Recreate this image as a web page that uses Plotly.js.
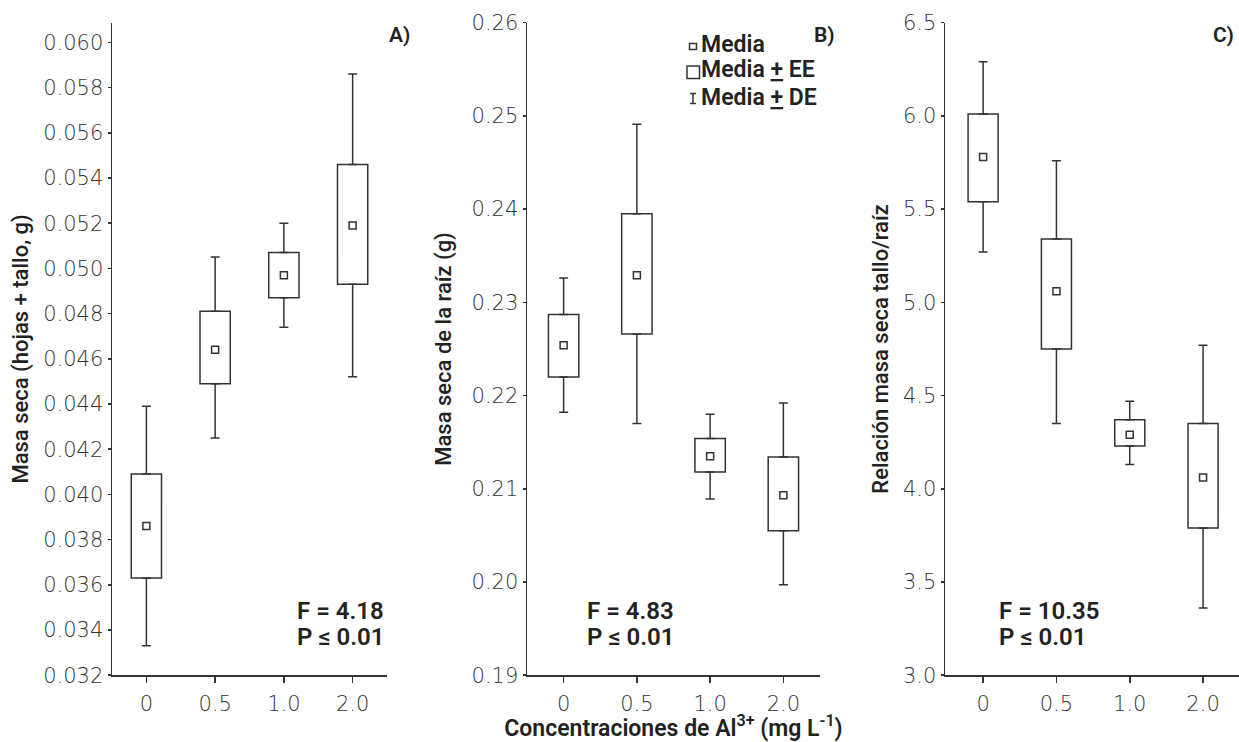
<!DOCTYPE html>
<html><head><meta charset="utf-8">
<script src="https://cdn.plot.ly/plotly-3.0.1.min.js"></script>
<style>html,body{margin:0;padding:0;background:#fff}#chart{width:1239px;height:742px}</style>
</head><body><div id="chart"></div>
<script>
// Categories (Al3+ concentration, mg/L)
const categories = ['0', '0.5', '1.0', '2.0'];

// Panel A: Masa seca (hojas + tallo, g)
const aMean   = [0.0386, 0.0464, 0.0497, 0.0519];
const aEELow  = [0.0363, 0.0449, 0.0487, 0.0493];
const aEEHigh = [0.0409, 0.0481, 0.0507, 0.0546];
const aDELow  = [0.0333, 0.0425, 0.0474, 0.0452];
const aDEHigh = [0.0439, 0.0505, 0.0520, 0.0586];

// Panel B: Masa seca de la raíz (g)
const bMean   = [0.2254, 0.2329, 0.2135, 0.2093];
const bEELow  = [0.2220, 0.2266, 0.2118, 0.2055];
const bEEHigh = [0.2287, 0.2395, 0.2154, 0.2134];
const bDELow  = [0.2182, 0.2170, 0.2089, 0.1997];
const bDEHigh = [0.2326, 0.2491, 0.2180, 0.2192];

// Panel C: Relación masa seca tallo/raíz
const cMean   = [5.78, 5.06, 4.29, 4.06];
const cEELow  = [5.54, 4.75, 4.23, 3.79];
const cEEHigh = [6.01, 5.34, 4.37, 4.35];
const cDELow  = [5.27, 4.35, 4.13, 3.36];
const cDEHigh = [6.29, 5.76, 4.47, 4.77];

// Statistics text
const fTexts = ['F = 4.18', 'F = 4.83', 'F = 10.35'];
const pTexts = ['P ≤ 0.01', 'P ≤ 0.01', 'P ≤ 0.01'];
const panelLabels = ['A)', 'B)', 'C)'];
const yTitles = ['Masa seca (hojas + tallo, g)', 'Masa seca de la raíz (g)', 'Relación masa seca tallo/raíz'];
const xTitle = 'Concentraciones de Al<sup>3+</sup> (mg L<sup>-1</sup>)';
const legendTexts = ['Media', 'Media <u>+</u> EE', 'Media <u>+</u> DE'];

const LINE = '#333333';
const W = 1239, H = 742;

function panelTraces(xa, ya, mean, eeLo, eeHi, deLo, deHi, boxW) {
  const zeros = categories.map(() => 0);
  const common = {xaxis: xa, yaxis: ya, showlegend: false, hoverinfo: 'skip'};
  return [
    Object.assign({
      type: 'bar', x: categories, base: eeLo,
      y: eeHi.map((v, i) => v - eeLo[i]), width: boxW,
      marker: {color: '#ffffff', line: {color: LINE, width: 1.5}}
    }, common),
    Object.assign({
      type: 'scatter', mode: 'markers', x: categories, y: eeHi,
      marker: {color: 'rgba(0,0,0,0)', size: 1},
      error_y: {type: 'data', symmetric: false,
        array: deHi.map((v, i) => v - eeHi[i]), arrayminus: zeros,
        color: LINE, thickness: 1.5, width: 4.5}
    }, common),
    Object.assign({
      type: 'scatter', mode: 'markers', x: categories, y: eeLo,
      marker: {color: 'rgba(0,0,0,0)', size: 1},
      error_y: {type: 'data', symmetric: false,
        array: zeros, arrayminus: eeLo.map((v, i) => v - deLo[i]),
        color: LINE, thickness: 1.5, width: 4.5}
    }, common),
    Object.assign({
      type: 'scatter', mode: 'markers', x: categories, y: mean,
      marker: {symbol: 'square-open', size: 7, color: LINE, line: {width: 1.5, color: LINE}}
    }, common)
  ];
}

const data = [].concat(
  panelTraces('x', 'y', aMean, aEELow, aEEHigh, aDELow, aDEHigh, 0.44),
  panelTraces('x2', 'y2', bMean, bEELow, bEEHigh, bDELow, bDEHigh, 0.415),
  panelTraces('x3', 'y3', cMean, cEELow, cEEHigh, cDELow, cDEHigh, 0.41)
);

const tickFont = {family: 'DejaVu Sans', size: 21, color: '#333333', weight: 200};
const titleFont = {family: 'Roboto', size: 22, color: '#222222', weight: 500};

function xAxis(domain, anchor, range) {
  return {domain: domain, anchor: anchor, type: 'category',
    categoryorder: 'array', categoryarray: categories, range: range,
    showline: true, linecolor: LINE, linewidth: 1.5,
    ticks: 'outside', ticklen: 6, tickwidth: 1.5, tickcolor: LINE,
    tickfont: tickFont, showgrid: false, zeroline: false, fixedrange: true,
    ticklabelstandoff: 3};
}
function yAxis(domain, anchor, range, tick0, dtick, fmt, title, standoff) {
  return {domain: domain, anchor: anchor, range: range, tick0: tick0, dtick: dtick,
    tickformat: fmt, showline: true, linecolor: LINE, linewidth: 1.5,
    ticks: 'outside', ticklen: 3, tickwidth: 1.5, tickcolor: LINE,
    tickfont: tickFont, showgrid: false, zeroline: false, fixedrange: true,
    title: {text: title, font: titleFont, standoff: standoff}};
}

const yDom = [(H - 675.2) / H, (H - 22.7) / H];
const layout = {
  width: W, height: H,
  margin: {l: 0, r: 0, t: 0, b: 0},
  paper_bgcolor: '#ffffff', plot_bgcolor: '#ffffff',
  showlegend: false,
  xaxis: xAxis([112 / W, 387 / W], 'y', [-0.5, 3.5]),
  yaxis: yAxis(yDom, 'x', [0.032, 0.06087], 0.032, 0.002, '.3f', yTitles[0], 8),
  xaxis2: Object.assign(xAxis([527 / W, 820 / W], 'y2', [-0.5, 3.5]),
    {title: {text: xTitle, font: {family: 'Roboto', size: 23, color: '#222222', weight: 600}, standoff: 3}}),
  yaxis2: yAxis(yDom, 'x2', [0.19, 0.26], 0.19, 0.01, '.2f', yTitles[1], 14),
  xaxis3: xAxis([945 / W, 1239 / W], 'y3', [-0.52, 3.49]),
  yaxis3: yAxis(yDom, 'x3', [3.0, 6.5], 3.0, 0.5, '.1f', yTitles[2], 8),
  annotations: [],
  shapes: []
};

const statFont = {family: 'Roboto', size: 24, color: '#222222', weight: 600};
const statX = [295, 585, 997];
for (let i = 0; i < 3; i++) {
  layout.annotations.push({xref: 'paper', yref: 'paper', x: statX[i] / W, y: 1 - 611 / H,
    xanchor: 'left', yanchor: 'middle', text: fTexts[i], showarrow: false, font: statFont});
  layout.annotations.push({xref: 'paper', yref: 'paper', x: statX[i] / W, y: 1 - 637 / H,
    xanchor: 'left', yanchor: 'middle', text: pTexts[i], showarrow: false, font: statFont});
}
const labelX = [412, 837, 1236];
for (let i = 0; i < 3; i++) {
  layout.annotations.push({xref: 'paper', yref: 'paper', x: labelX[i] / W, y: 1 - 35 / H,
    xanchor: 'right', yanchor: 'middle', text: panelLabels[i], showarrow: false,
    font: {family: 'Roboto', size: 21, color: '#222222', weight: 600}});
}
const legY = [44, 70, 97];
for (let i = 0; i < 3; i++) {
  layout.annotations.push({xref: 'paper', yref: 'paper', x: 699 / W, y: 1 - legY[i] / H,
    xanchor: 'left', yanchor: 'middle', text: legendTexts[i], showarrow: false,
    font: {family: 'Roboto', size: 23, color: '#222222', weight: 600}});
}
function px(x) { return x / W; }
function py(y) { return 1 - y / H; }
const shapeLine = {color: LINE, width: 1.5};
layout.shapes.push({type: 'rect', xref: 'paper', yref: 'paper', x0: px(689.5), x1: px(696.5), y0: py(49.5), y1: py(43.5), line: shapeLine, fillcolor: '#ffffff'});
layout.shapes.push({type: 'rect', xref: 'paper', yref: 'paper', x0: px(687), x1: px(699.5), y0: py(78.5), y1: py(66), line: shapeLine, fillcolor: '#ffffff'});
layout.shapes.push({type: 'line', xref: 'paper', yref: 'paper', x0: px(693), x1: px(693), y0: py(93.5), y1: py(103.5), line: shapeLine});
layout.shapes.push({type: 'line', xref: 'paper', yref: 'paper', x0: px(690), x1: px(696), y0: py(93.5), y1: py(93.5), line: shapeLine});
layout.shapes.push({type: 'line', xref: 'paper', yref: 'paper', x0: px(690), x1: px(696), y0: py(103.5), y1: py(103.5), line: shapeLine});

Plotly.newPlot('chart', data, layout, {displayModeBar: false, staticPlot: true});
</script>
</body></html>
